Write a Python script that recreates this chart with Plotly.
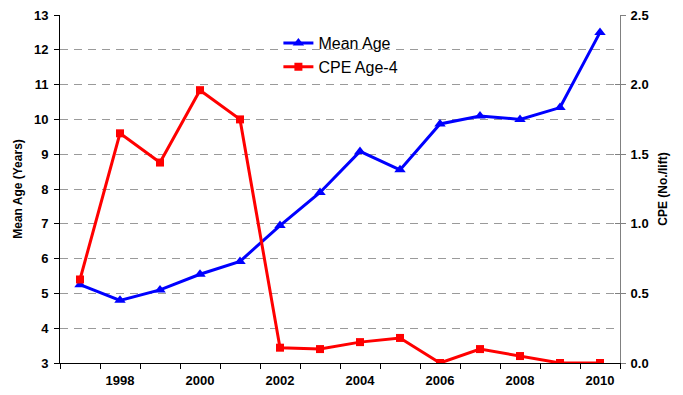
import plotly.graph_objects as go

years = list(range(1997, 2011))
mean_age = [5.25, 4.8, 5.1, 5.55, 5.92, 6.95, 7.9, 9.08, 8.55, 9.87, 10.1, 10.0, 10.34, 12.5]
cpe_age4 = [0.60, 1.65, 1.44, 1.96, 1.75, 0.11, 0.10, 0.15, 0.18, 0.0, 0.10, 0.05, 0.0, 0.0]
year_labels = [1998, 2000, 2002, 2004, 2006, 2008, 2010]

font_family = "Liberation Sans, Arial, sans-serif"
tick_font = dict(family=font_family, size=13, color="black", weight="bold")

fig = go.Figure()
fig.add_trace(go.Scatter(
    x=years, y=mean_age, name="Mean Age", mode="lines+markers",
    line=dict(color="#0000FF", width=3),
    marker=dict(symbol="triangle-up", size=10, color="#0000FF"),
    yaxis="y",
))
fig.add_trace(go.Scatter(
    x=years, y=cpe_age4, name="CPE Age-4", mode="lines+markers",
    line=dict(color="#FF0000", width=3),
    marker=dict(symbol="square", size=8, color="#FF0000"),
    yaxis="y2",
))
# invisible trace carrying the inward tick marks of the right axis
fig.add_trace(go.Scatter(x=[years[0]], y=[0], yaxis="y3", showlegend=False,
                         mode="markers", marker=dict(opacity=0), hoverinfo="skip"))

fig.update_layout(
    width=683, height=395,
    margin=dict(l=60, r=63, t=15, b=32, autoexpand=False),
    paper_bgcolor="white", plot_bgcolor="white",
    showlegend=True,
    legend=dict(x=0.39, y=0.968, xanchor="left", yanchor="top",
                bgcolor="rgba(0,0,0,0)",
                font=dict(family=font_family, size=16, color="black"),
                itemwidth=30, tracegroupgap=0),
    xaxis=dict(
        range=[1996.5, 2010.5], tickmode="array", tickvals=year_labels,
        ticktext=[str(y) for y in year_labels], ticks="", tickfont=tick_font,
        ticklabelstandoff=5,
        showgrid=False, zeroline=False, showline=True, linecolor="black", linewidth=1,
        minor=dict(tickmode="array", tickvals=[y + 0.5 for y in range(1996, 2011)],
                   ticks="outside", ticklen=5, tickcolor="black", showgrid=False),
    ),
    yaxis=dict(
        range=[3, 13], dtick=1, tickfont=tick_font, ticks="outside", ticklen=5,
        ticklabelstandoff=3,
        tickcolor="black", showline=True, linecolor="black", linewidth=1,
        showgrid=True, gridcolor="#9A9A9A", griddash="8px,6px", gridwidth=1,
        zeroline=False,
        title=dict(text="Mean Age (Years)", standoff=8,
                   font=dict(family=font_family, size=12, color="black", weight="bold")),
    ),
    yaxis2=dict(
        range=[0, 2.5], dtick=0.5, tickformat=".1f", tickfont=tick_font,
        ticklabelstandoff=2,
        overlaying="y", side="right", ticks="outside", ticklen=5, tickcolor="#808080",
        showline=True, linecolor="#808080", linewidth=1, showgrid=False, zeroline=False,
        title=dict(text="CPE (No./lift)", standoff=10,
                   font=dict(family=font_family, size=12, color="black", weight="bold")),
    ),
    yaxis3=dict(
        range=[0, 2.5], dtick=0.5, overlaying="y", side="right", ticks="inside",
        ticklen=5, tickcolor="#808080", showticklabels=False, showline=False,
        showgrid=False, zeroline=False,
    ),
)

fig.write_html("out.html")
